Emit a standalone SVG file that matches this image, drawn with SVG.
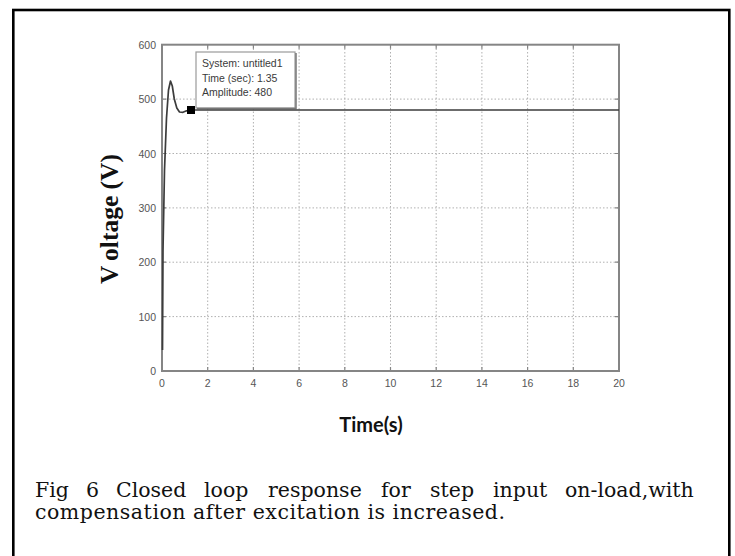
<svg xmlns="http://www.w3.org/2000/svg" width="735" height="556" viewBox="0 0 735 556">
<style>
.grid{stroke:#b0b0b0;stroke-width:1;stroke-dasharray:1.5 2;fill:none}
.axis{stroke:#858585;stroke-width:2;fill:none}
.tick{stroke:#858585;stroke-width:1.2}
.tl{font-family:"Liberation Sans",Arial,sans-serif;font-size:10.5px;fill:#555}
.tip{font-family:"Liberation Sans",Arial,sans-serif;font-size:10.5px;fill:#3a3a3a}
.cap{font-family:"DejaVu Serif",serif;font-size:20.5px;fill:#111}
</style>
<rect x="0" y="0" width="735" height="556" fill="#fff"/>
<rect id="frame" x="13.3" y="10" width="716" height="570" fill="none" stroke="#000" stroke-width="2.6"/>
<g id="grid">
<path class="grid" d="M207.7 45V371M253.4 45V371M299.1 45V371M344.8 45V371M390.5 45V371M436.2 45V371M481.9 45V371M527.6 45V371M573.3 45V371"/>
<path class="grid" d="M162 316.6H619M162 262.2H619M162 207.9H619M162 153.5H619M162 99.1H619"/>
</g>
<g id="ticks">
<path class="tick" d="M207.7 371v-4M253.4 371v-4M299.1 371v-4M344.8 371v-4M390.5 371v-4M436.2 371v-4M481.9 371v-4M527.6 371v-4M573.3 371v-4"/>
<path class="tick" d="M207.7 44.7v4M253.4 44.7v4M299.1 44.7v4M344.8 44.7v4M390.5 44.7v4M436.2 44.7v4M481.9 44.7v4M527.6 44.7v4M573.3 44.7v4"/>
<path class="tick" d="M162 316.6h4M162 262.2h4M162 207.9h4M162 153.5h4M162 99.1h4"/>
<path class="tick" d="M619 316.6h-4M619 262.2h-4M619 207.9h-4M619 153.5h-4M619 99.1h-4"/>
</g>
<rect id="axes" class="axis" x="162" y="44.7" width="457" height="326.3"/>
<g id="ylabels" class="tl" text-anchor="end">
<text x="156" y="48.5">600</text>
<text x="156" y="103">500</text>
<text x="156" y="157.5">400</text>
<text x="156" y="211.5">300</text>
<text x="156" y="266">200</text>
<text x="156" y="320.5">100</text>
<text x="156" y="374.5">0</text>
</g>
<g id="xlabels" class="tl" text-anchor="middle">
<text x="162" y="387">0</text>
<text x="207.7" y="387">2</text>
<text x="253.4" y="387">4</text>
<text x="299.1" y="387">6</text>
<text x="344.8" y="387">8</text>
<text x="390.5" y="387">10</text>
<text x="436.2" y="387">12</text>
<text x="481.9" y="387">14</text>
<text x="527.6" y="387">16</text>
<text x="573.3" y="387">18</text>
<text x="619" y="387">20</text>
</g>
<g id="tooltip">
<rect x="196" y="52" width="99" height="56" fill="#fff" stroke="#9a9a9a" stroke-width="1.2"/>
<path d="M197 108.5H296V53" fill="none" stroke="#777" stroke-width="1.5"/>
<text class="tip" x="202" y="67">System: untitled1</text>
<text class="tip" x="202" y="81.5">Time (sec): 1.35</text>
<text class="tip" x="202" y="95.5">Amplitude: 480</text>
</g>
<g id="response">
<path d="M162.5 350 L163 250 L164.5 170 L166.5 118 L168.5 90 L170.5 81 L172.3 86 L174.3 99 L176.8 108 L179.5 112 L183 112.3 L186.5 110.8 L191 110 L619 110" fill="none" stroke="#3c3c3c" stroke-width="1.7" stroke-linejoin="round"/>
<rect x="187" y="106" width="8" height="8" fill="#000"/>
</g>
<text id="ylabel" transform="translate(117.5,219) rotate(-90)" text-anchor="middle" font-family="'Liberation Serif','Times New Roman',serif" font-weight="bold" font-size="25.5" fill="#111">V<tspan dx="7">oltage (V)</tspan></text>
<text id="xlabel" x="371" y="432" text-anchor="middle" font-family="Lato,'Liberation Sans',sans-serif" font-weight="bold" font-size="20" fill="#111">Time(s)</text>
<g id="caption">
<text class="cap" y="497"><tspan x="35">Fig</tspan><tspan x="86">6</tspan><tspan x="116">Closed</tspan><tspan x="204">loop</tspan><tspan x="268">response</tspan><tspan x="381">for</tspan><tspan x="430">step</tspan><tspan x="493">input</tspan><tspan x="565">on-load,with</tspan></text>
<text class="cap" x="35" y="519" textLength="470" lengthAdjust="spacing">compensation after excitation is increased.</text>
</g>
</svg>
